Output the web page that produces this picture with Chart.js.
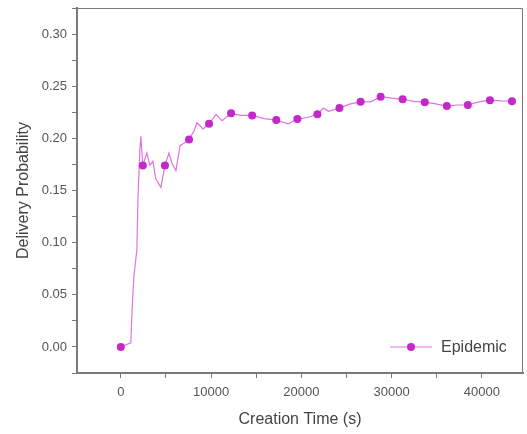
<!DOCTYPE html>
<html>
<head>
<meta charset="utf-8">
<script src="https://cdn.jsdelivr.net/npm/chart.js@4"></script>
<style>
  body { margin: 0; background: #fff; }
  canvas { display: block; }
</style>
</head>
<body>
<canvas id="chart" width="527" height="434"></canvas>
<script>
// creation time (s) and delivery probability
const times = [0, 1110, 1220, 1440, 1780, 1890, 2110, 2220, 2440, 2890, 3220, 3560, 3890, 4440,
    4890, 5330, 5670, 6110, 6560, 7110, 7560, 8110, 8440, 9110, 9780, 10550, 11220, 12220,
    13220, 14550, 15890, 17220, 18550, 19560, 20660, 21780, 22440, 23000, 24220, 25440, 26560,
    27660, 28780, 30000, 31220, 32440, 33670, 34890, 36110, 37330, 38440, 39660, 40890, 42110, 43330];
const probs = [0.000, 0.004, 0.029, 0.067, 0.093, 0.140, 0.188, 0.202, 0.174, 0.186, 0.174, 0.178, 0.161, 0.153,
    0.174, 0.186, 0.176, 0.169, 0.193, 0.196, 0.199, 0.207, 0.215, 0.209, 0.214, 0.223, 0.217, 0.224,
    0.222, 0.222, 0.219, 0.2175, 0.214, 0.2185, 0.220, 0.223, 0.229, 0.226, 0.229, 0.233, 0.235,
    0.235, 0.240, 0.2385, 0.2375, 0.2355, 0.2347, 0.233, 0.231, 0.232, 0.232, 0.235, 0.2366, 0.236, 0.2357];
// times where a marker is drawn
const markerTimes = [0, 2440, 4890, 7560, 9780, 12220, 14550, 17220, 19560, 21780, 24220, 26560,
    28780, 31220, 33670, 36110, 38440, 40890, 43330];
// tick positions (majors get a label, the rest are minor marks)
const xTicks = [0, 5000, 10000, 15000, 20000, 25000, 30000, 35000, 40000];
const xLabels = [0, 10000, 20000, 30000, 40000];
const yTicks = [-0.025, 0, 0.025, 0.05, 0.075, 0.1, 0.125, 0.15, 0.175, 0.2, 0.225, 0.25, 0.275, 0.3, 0.325];
const yLabels = ['0.00', '0.05', '0.10', '0.15', '0.20', '0.25', '0.30'];
const seriesName = 'Epidemic';

const lineColor = '#e272e2';
const markColor = '#c428c8';
const axisColor = '#7a7a7a';
const textColor = '#555';
const fontFamily = '"Liberation Sans", Arial, sans-serif';

const points = times.map((t, i) => ({ x: t, y: probs[i] }));
const radii = times.map(t => markerTimes.includes(t) ? 4 : 0);

const frame = {
    id: 'frame',
    afterDraw(chart) {
        const { ctx, chartArea: a } = chart;
        ctx.save();
        ctx.strokeStyle = axisColor;
        ctx.lineWidth = 1;
        ctx.beginPath();
        ctx.moveTo(a.left, a.top + 0.5);
        ctx.lineTo(a.right - 0.5, a.top + 0.5);
        ctx.lineTo(a.right - 0.5, a.bottom);
        ctx.stroke();

        // legend, lower right inside the plot
        const lx = 390, ly = 347;
        ctx.strokeStyle = lineColor;
        ctx.lineWidth = 1.2;
        ctx.beginPath();
        ctx.moveTo(lx, ly);
        ctx.lineTo(lx + 42, ly);
        ctx.stroke();
        ctx.fillStyle = markColor;
        ctx.beginPath();
        ctx.arc(lx + 21, ly, 4, 0, Math.PI * 2);
        ctx.fill();
        ctx.fillStyle = '#444';
        ctx.font = '16px ' + fontFamily;
        ctx.textBaseline = 'middle';
        ctx.fillText(seriesName, lx + 51, ly + 1);
        ctx.restore();
    }
};

new Chart(document.getElementById('chart').getContext('2d'), {
    type: 'line',
    data: {
        datasets: [{
            label: seriesName,
            data: points,
            borderColor: lineColor,
            borderWidth: 1.2,
            backgroundColor: markColor,
            pointBackgroundColor: markColor,
            pointBorderWidth: 0,
            pointRadius: radii,
            tension: 0,
        }]
    },
    options: {
        responsive: false,
        animation: false,
        layout: { padding: { top: 8, right: 2, left: 0, bottom: 0 } },
        plugins: {
            legend: { display: false },
            tooltip: { enabled: false }
        },
        scales: {
            x: {
                type: 'linear',
                min: -4850,
                max: 44550,
                afterBuildTicks(s) { s.ticks = xTicks.map(v => ({ value: v })); },
                afterFit(s) { s.height = 61; s.paddingLeft = 0; s.paddingRight = 0; },
                border: { color: axisColor, width: 2 },
                grid: { drawOnChartArea: false, drawTicks: true, tickLength: 5, color: axisColor },
                ticks: {
                    color: textColor,
                    font: { family: fontFamily, size: 13 },
                    padding: 7,
                    maxRotation: 0,
                    autoSkip: false,
                    callback: v => xLabels.includes(v) ? String(v) : ''
                },
                title: {
                    display: true,
                    text: 'Creation Time (s)',
                    color: '#444',
                    font: { family: fontFamily, size: 16 },
                    padding: { top: 4, bottom: 5 }
                }
            },
            y: {
                min: -0.025,
                max: 0.325,
                afterBuildTicks(s) { s.ticks = yTicks.map(v => ({ value: v })); },
                afterFit(s) { s.width = 77; s.paddingTop = 0; s.paddingBottom = 0; },
                border: { color: axisColor, width: 2 },
                grid: { drawOnChartArea: false, drawTicks: true, tickLength: 5, color: axisColor },
                ticks: {
                    color: textColor,
                    font: { family: fontFamily, size: 13 },
                    padding: 5,
                    autoSkip: false,
                    callback: v => {
                        const s = Math.abs(v).toFixed(2);
                        return (yLabels.includes(s) && Math.abs(Number(s) - Math.abs(v)) < 1e-9) ? s : '';
                    }
                },
                title: {
                    display: true,
                    text: 'Delivery Probability',
                    color: '#444',
                    font: { family: fontFamily, size: 16 },
                    padding: { top: 14, bottom: 4 }
                }
            }
        }
    },
    plugins: [frame]
});
</script>
</body>
</html>
